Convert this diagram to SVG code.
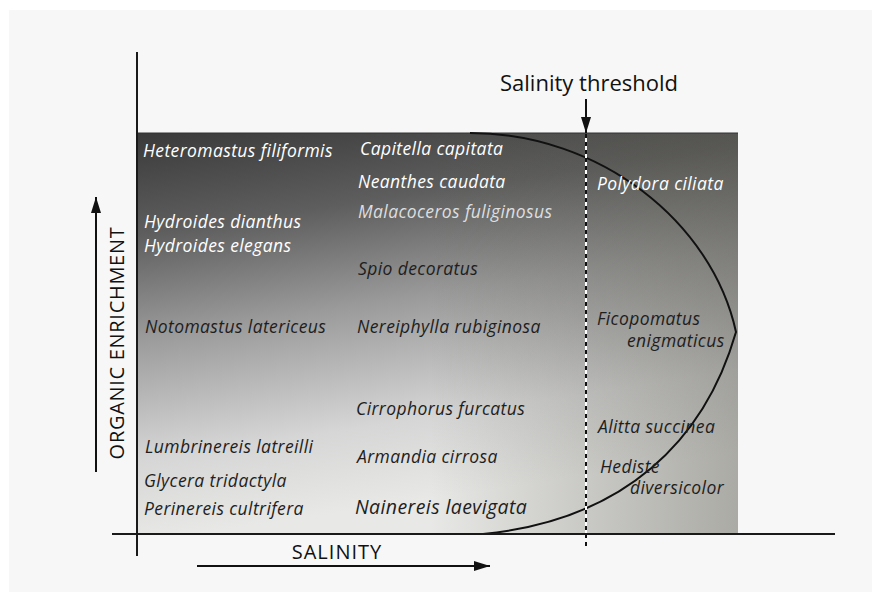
<svg xmlns="http://www.w3.org/2000/svg" width="872" height="592" viewBox="0 0 872 592">
<defs>
<linearGradient id="bg" gradientUnits="userSpaceOnUse" x1="137" y1="133" x2="197" y2="534">
<stop offset="0" stop-color="#3a3a3a"/>
<stop offset="0.25" stop-color="#5e5e5e"/>
<stop offset="0.5" stop-color="#9a9a9a"/>
<stop offset="0.8" stop-color="#d6d6d6"/>
<stop offset="1" stop-color="#e8e8e6"/>
</linearGradient>
<linearGradient id="rightShade" gradientUnits="userSpaceOnUse" x1="430" y1="0" x2="738" y2="0">
<stop offset="0" stop-color="#4f4e44" stop-opacity="0"/>
<stop offset="1" stop-color="#4f4e44" stop-opacity="0.4"/>
</linearGradient>
<marker id="ahBig" viewBox="0 0 16 10" refX="16" refY="5" markerWidth="16" markerHeight="10" markerUnits="userSpaceOnUse" orient="auto">
<path d="M0,0 L16,5 L0,10 Z" fill="#111"/>
</marker>
</defs>
<style>
.sp{font-family:"Open Sans","Liberation Sans",sans-serif;font-style:italic;font-size:17.5px;letter-spacing:0.4px;fill:#1e1e1e}
.w{fill:#ffffff}
.g{fill:#dedede}
.big{font-size:19.5px;letter-spacing:0.4px}
.ax{font-family:"Open Sans","Liberation Sans",sans-serif;font-size:20px;fill:#111}
.th{font-size:22px;letter-spacing:0px}
.axis{stroke:#1a1a1a;stroke-width:2;fill:none}
</style>
<rect x="0" y="0" width="872" height="592" fill="#ffffff"/>
<rect x="9" y="10" width="863" height="582" fill="#f7f7f7"/>
<g id="field">
<rect x="137" y="133" width="601" height="401" fill="url(#bg)"/>
<rect x="137" y="133" width="601" height="401" fill="url(#rightShade)"/>
<line x1="137" y1="133" x2="738" y2="133" stroke="#333" stroke-width="1"/>
</g>

<g id="connectors">
<path id="tolerance-curve" d="M470,133 C600,133 712,222 736,332 C705,440 625,520 483,534" fill="none" stroke="#111" stroke-width="2"/>
<line x1="586" y1="134" x2="586" y2="534" stroke="#ffffff" stroke-width="2"/>
<line x1="586" y1="134" x2="586" y2="550" stroke="#111" stroke-width="2" stroke-dasharray="4 4"/>
<line x1="586" y1="99" x2="586" y2="133" stroke="#111" stroke-width="2" marker-end="url(#ahBig)"/>
<line class="axis" x1="137" y1="52" x2="137" y2="556"/>
<line class="axis" x1="112" y1="534" x2="835" y2="534"/>
<line x1="96" y1="472" x2="96" y2="197" stroke="#111" stroke-width="2" marker-end="url(#ahBig)"/>
<line x1="197" y1="566" x2="490" y2="566" stroke="#111" stroke-width="2" marker-end="url(#ahBig)"/>
</g>

<g id="axis-labels">
<text id="threshold-label" class="ax th" x="589" y="91" text-anchor="middle">Salinity threshold</text>
<text id="y-label" class="ax" transform="translate(124,343) rotate(-90)" text-anchor="middle" style="letter-spacing:0.7px">ORGANIC  ENRICHMENT</text>
<text id="x-label" class="ax" x="337" y="559" text-anchor="middle" style="letter-spacing:1px">SALINITY</text>
</g>

<g id="col-left">
<g id="heteromastus"><text class="sp w" x="143" y="157">Heteromastus filiformis</text></g>
<g id="hydroides-dianthus"><text class="sp w" x="144" y="228">Hydroides dianthus</text></g>
<g id="hydroides-elegans"><text class="sp w" x="144" y="252">Hydroides elegans</text></g>
<g id="notomastus"><text class="sp" x="145" y="333">Notomastus latericeus</text></g>
<g id="lumbrinereis"><text class="sp" x="145" y="453">Lumbrinereis latreilli</text></g>
<g id="glycera"><text class="sp" x="144" y="487">Glycera tridactyla</text></g>
<g id="perinereis"><text class="sp" x="144" y="515">Perinereis cultrifera</text></g>
</g>

<g id="col-middle">
<g id="capitella"><text class="sp w" x="360" y="155">Capitella capitata</text></g>
<g id="neanthes"><text class="sp w" x="358" y="188">Neanthes caudata</text></g>
<g id="malacoceros"><text class="sp g" x="358" y="218">Malacoceros fuliginosus</text></g>
<g id="spio"><text class="sp" x="358" y="275">Spio decoratus</text></g>
<g id="nereiphylla"><text class="sp" x="357" y="333">Nereiphylla rubiginosa</text></g>
<g id="cirrophorus"><text class="sp" x="356" y="415">Cirrophorus furcatus</text></g>
<g id="armandia"><text class="sp" x="357" y="463">Armandia cirrosa</text></g>
<g id="nainereis"><text class="sp big" x="355" y="514">Nainereis laevigata</text></g>
</g>

<g id="col-right">
<g id="polydora"><text class="sp w" x="597" y="190">Polydora ciliata</text></g>
<g id="ficopomatus"><text class="sp" x="597" y="325">Ficopomatus</text><text class="sp" x="627" y="347">enigmaticus</text></g>
<g id="alitta"><text class="sp" x="598" y="433">Alitta succinea</text></g>
<g id="hediste"><text class="sp" x="600" y="473">Hediste</text><text class="sp" x="630" y="494">diversicolor</text></g>
</g>
</svg>
